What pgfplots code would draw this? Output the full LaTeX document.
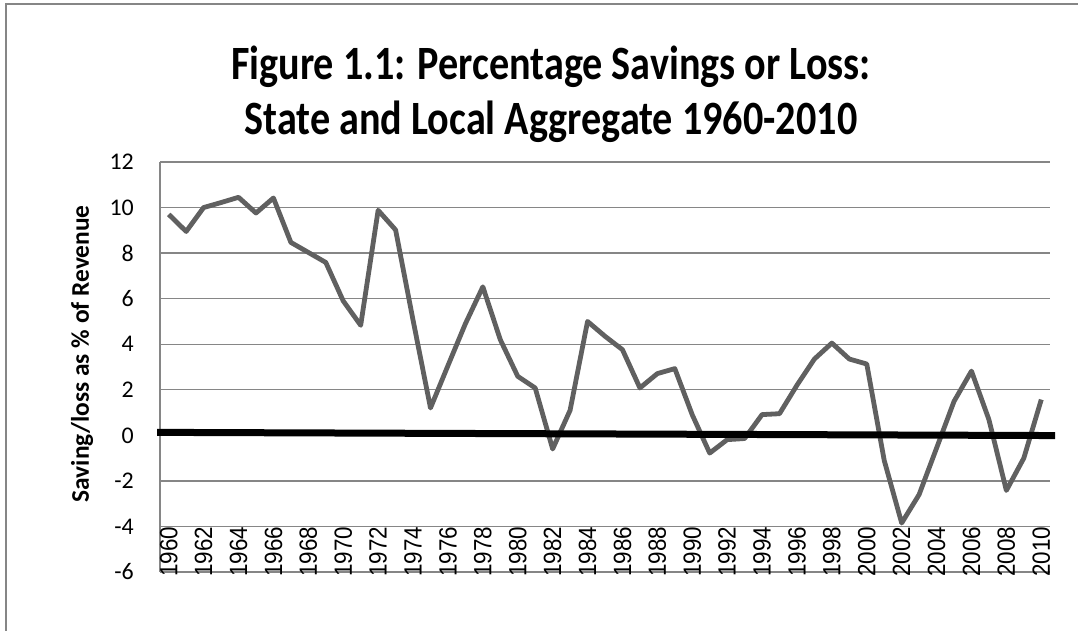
\documentclass[border=0pt]{standalone}
\usepackage{pgfplots}
\pgfplotsset{compat=1.18}
\usepackage{fontspec}
\setmainfont{Carlito}
\newfontfamily\titlefont[FakeStretch=0.84]{Carlito}
\newfontfamily\arialfont[FakeStretch=0.9]{Liberation Sans}
\definecolor{gridgray}{RGB}{134,134,134}
\definecolor{seriesgray}{RGB}{96,96,96}
\begin{document}
\begin{tikzpicture}
\useasboundingbox (0,0) rectangle (1078bp,631bp);
\draw[gridgray, line width=1.3bp] (6bp,-20bp) -- (6bp,627bp) -- (1100bp,627bp);
\begin{axis}[
  scale only axis,
  width=890bp, height=410bp,
  at={(160bp,59bp)}, anchor=south west,
  xmin=1959.5, xmax=2010.5,
  ymin=-6, ymax=12,
  clip=false,
  axis x line*=bottom,
  axis y line*=left,
  x axis line style={draw=none},
  y axis line style={draw=gridgray, line width=1.3bp},
  xtick={1960,1962,...,2010},
  xticklabels={1960,1962,1964,1966,1968,1970,1972,1974,1976,1978,1980,1982,1984,1986,1988,1990,1992,1994,1996,1998,2000,2002,2004,2006,2008,2010},
  xticklabel style={font=\arialfont\fontsize{25}{26}\selectfont, rotate=90, anchor=east, inner sep=1bp},
  xticklabel shift={-46.5bp},
  ytick={-6,-4,-2,0,2,4,6,8,10,12},
  yticklabels={-6,-4,-2,0,2,4,6,8,10,12},
  yticklabel style={font=\fontsize{24}{26}\selectfont, anchor=east, inner sep=0pt, xshift=-26bp},
  major tick length=0pt,
  ymajorgrids,
  grid style={draw=gridgray, line width=1.4bp},
  ylabel={Saving/loss as \% of Revenue},
  ylabel style={font=\bfseries\fontsize{25.5}{27}\selectfont, at={(axis description cs:-0.0876,0.532)}, anchor=center},
]
\addplot[seriesgray, line width=4.8bp, line join=round, mark=none] coordinates {
(1960,9.7) (1961,8.95) (1962,10.0) (1963,10.22) (1964,10.45) (1965,9.76) (1966,10.42)
(1967,8.47) (1968,8.03) (1969,7.59) (1970,5.9) (1971,4.83) (1972,9.88) (1973,9.02)
(1974,5.06) (1975,1.2) (1976,3.06) (1977,4.9) (1978,6.52) (1979,4.2) (1980,2.59)
(1981,2.08) (1982,-0.6) (1983,1.1) (1984,5.0) (1985,4.35) (1986,3.76) (1987,2.08)
(1988,2.71) (1989,2.93) (1990,0.9) (1991,-0.78) (1992,-0.19) (1993,-0.14) (1994,0.91)
(1995,0.95) (1996,2.2) (1997,3.35) (1998,4.05) (1999,3.35) (2000,3.13) (2001,-1.1)
(2002,-3.85) (2003,-2.6) (2004,-0.56) (2005,1.49) (2006,2.82) (2007,0.69) (2008,-2.42)
(2009,-1.0) (2010,1.57)
};
\addplot[black, line width=7bp, mark=none] coordinates {(1959.33,0.13) (2010.79,-0.01)};
\end{axis}
\node[anchor=base, font=\titlefont\bfseries\fontsize{48}{50}\selectfont] at (551bp,551bp) {Figure 1.1: Percentage Savings or Loss:};
\node[anchor=base, font=\titlefont\bfseries\fontsize{48}{50}\selectfont] at (551bp,496bp) {State and Local Aggregate 1960-2010};
\end{tikzpicture}
\end{document}
